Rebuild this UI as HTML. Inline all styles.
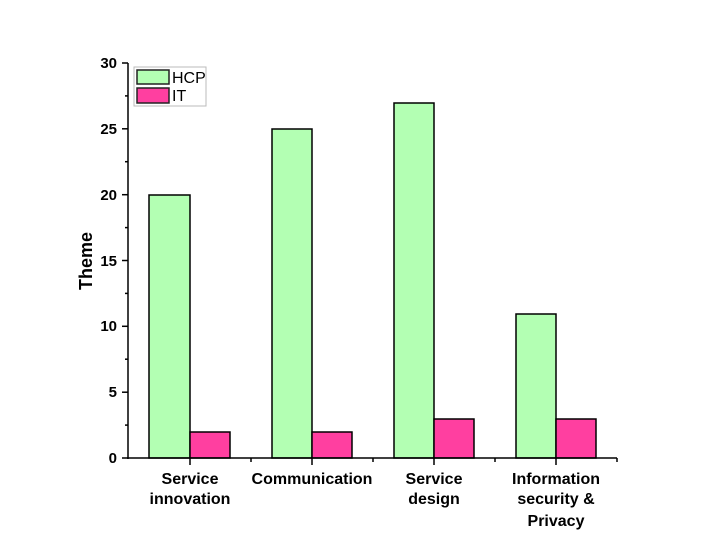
<!DOCTYPE html>
<html><head><style>body{margin:0;background:#fff}</style></head><body>
<svg width="717" height="549" xmlns="http://www.w3.org/2000/svg" font-family="Liberation Sans, Arial, sans-serif" font-weight="bold">
<rect width="717" height="549" fill="#fff"/>
<g stroke="#000" stroke-width="1.5">
<rect x="149" y="195" width="41" height="263" fill="#b3ffb3"/>
<rect x="190" y="432" width="40" height="26" fill="#ff3fa0"/>
<rect x="272" y="129" width="40" height="329" fill="#b3ffb3"/>
<rect x="312" y="432" width="40" height="26" fill="#ff3fa0"/>
<rect x="394" y="103" width="40" height="355" fill="#b3ffb3"/>
<rect x="434" y="419" width="40" height="39" fill="#ff3fa0"/>
<rect x="516" y="314" width="40" height="144" fill="#b3ffb3"/>
<rect x="556" y="419" width="40" height="39" fill="#ff3fa0"/>
</g>
<g stroke="#000" stroke-width="1.5" fill="none">
<line x1="128" y1="63" x2="128" y2="459"/>
<line x1="127" y1="458" x2="617" y2="458"/>
<line x1="122" y1="458" x2="128" y2="458"/>
<line x1="122" y1="392.2" x2="128" y2="392.2"/>
<line x1="122" y1="326.3" x2="128" y2="326.3"/>
<line x1="122" y1="260.5" x2="128" y2="260.5"/>
<line x1="122" y1="194.7" x2="128" y2="194.7"/>
<line x1="122" y1="128.8" x2="128" y2="128.8"/>
<line x1="122" y1="63" x2="128" y2="63"/>
<line x1="125" y1="425.1" x2="128" y2="425.1"/>
<line x1="125" y1="359.2" x2="128" y2="359.2"/>
<line x1="125" y1="293.4" x2="128" y2="293.4"/>
<line x1="125" y1="227.6" x2="128" y2="227.6"/>
<line x1="125" y1="161.7" x2="128" y2="161.7"/>
<line x1="125" y1="95.9" x2="128" y2="95.9"/>
<line x1="190" y1="458" x2="190" y2="465"/>
<line x1="312" y1="458" x2="312" y2="465"/>
<line x1="434" y1="458" x2="434" y2="465"/>
<line x1="556" y1="458" x2="556" y2="465"/>
<line x1="251" y1="458" x2="251" y2="462"/>
<line x1="373" y1="458" x2="373" y2="462"/>
<line x1="495" y1="458" x2="495" y2="462"/>
<line x1="617" y1="458" x2="617" y2="462"/>
</g>
<g font-size="15" text-anchor="end">
<text x="117" y="463">0</text>
<text x="117" y="397">5</text>
<text x="117" y="331">10</text>
<text x="117" y="266">15</text>
<text x="117" y="200">20</text>
<text x="117" y="134">25</text>
<text x="117" y="68">30</text>
</g>
<text transform="translate(92,261) rotate(-90)" font-size="18" text-anchor="middle">Theme</text>
<g font-size="16" text-anchor="middle">
<text x="190" y="484">Service</text><text x="190" y="504">innovation</text>
<text x="312" y="484">Communication</text>
<text x="434" y="484">Service</text><text x="434" y="504">design</text>
<text x="556" y="484">Information</text><text x="556" y="504">security &amp;</text><text x="556" y="526">Privacy</text>
</g>
<rect x="134" y="67" width="72" height="39" fill="#fff" stroke="#bbb" stroke-width="1"/>
<rect x="137" y="70" width="32" height="14" fill="#b3ffb3" stroke="#222" stroke-width="1.5"/>
<rect x="137" y="88" width="32" height="15" fill="#ff3fa0" stroke="#222" stroke-width="1.5"/>
<g font-size="16" font-weight="normal"><text x="172" y="83">HCP</text><text x="172" y="101">IT</text></g>
</svg>
</body></html>
